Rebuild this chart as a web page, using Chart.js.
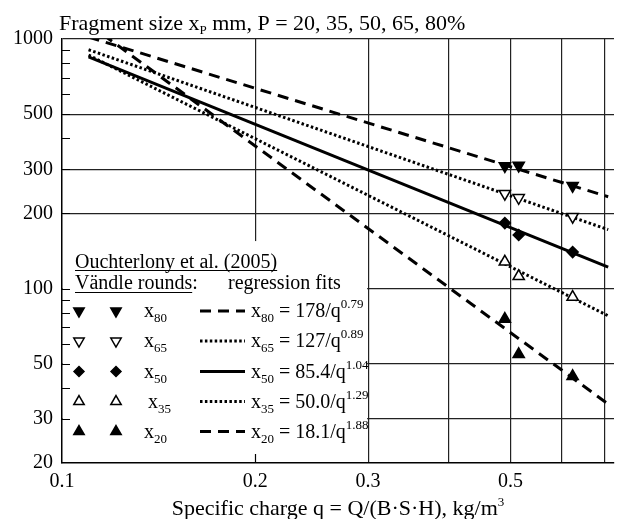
<!DOCTYPE html>
<html>
<head>
<meta charset="utf-8">
<script src="https://cdn.jsdelivr.net/npm/chart.js@4"></script>
<style>
  html, body { margin: 0; padding: 0; background: #fff; }
</style>
</head>
<body>
<canvas id="myChart" width="622" height="519"></canvas>
<script>
// Vändle rounds, specific charge q in kg/m3
const q_rounds = [0.49, 0.515, 0.625];
// fragment size x_P in mm
const x80 = [310, 311, 258];
const x65 = [240, 231, 194];
const x50 = [183, 164, 140];
const x35 = [128, 112, 92.5];
const x20 = [75.5, 54.5, 44.5];

// regression fits x_P = a/q^b
const fit_p = ['80', '65', '50', '35', '20'];
const fit_a = [178, 127, 85.4, 50.0, 18.1];
const fit_b = [0.79, 0.89, 1.04, 1.29, 1.88];
const fit_q = [0.11, 0.71];

const y_ticks = [20, 30, 40, 50, 60, 70, 80, 90, 100, 200, 300, 400, 500, 600, 700, 800, 900, 1000];
const y_labels = [20, 30, 50, 100, 200, 300, 500, 1000];
const x_ticks = [0.1, 0.2, 0.3, 0.4, 0.5, 0.6, 0.7];
const x_labels = [0.1, 0.2, 0.3, 0.5];

const series = [x80, x65, x50, x35, x20];
const marks = [
    {pointStyle: 'triangle', rotation: 180, fill: '#000', r: 6.5},
    {pointStyle: 'triangle', rotation: 180, fill: '#fff', r: 6.5},
    {pointStyle: 'rectRot', rotation: 0, fill: '#000', r: 5.5},
    {pointStyle: 'triangle', rotation: 0, fill: '#fff', r: 6.5},
    {pointStyle: 'triangle', rotation: 0, fill: '#000', r: 6.5}
];
const dashes = [[11, 7], [2.5, 2.4], [], [2.5, 2.4], [11, 7]];
const serif = '"Liberation Serif", "Times New Roman", serif';

const ctx = document.getElementById('myChart');

let datasets = [];
fit_a.forEach(function(a, i){
    datasets.push({
        label: 'fit x' + fit_p[i],
        data: fit_q.map(q => ({x: q, y: a / Math.pow(q, fit_b[i])})),
        showLine: true,
        borderColor: '#000',
        borderWidth: 3,
        borderDash: dashes[i],
        borderCapStyle: 'butt',
        pointRadius: 0,
        fill: false,
        order: 2
    });
    datasets.push({
        label: 'x' + fit_p[i],
        data: q_rounds.map((q, j) => ({x: q, y: series[i][j]})),
        pointStyle: marks[i].pointStyle,
        rotation: marks[i].rotation,
        pointRadius: marks[i].r,
        backgroundColor: marks[i].fill,
        borderColor: '#000',
        borderWidth: 1.5,
        order: 1
    });
});

// draws a run of text pieces: [text, size, dy]
function drawParts(c, x, y, parts, measureOnly)
{
    let w = 0;
    parts.forEach(function(p){
        c.font = p[1] + 'px ' + serif;
        if (!measureOnly) c.fillText(p[0], x + w, y + p[2]);
        w += c.measureText(p[0]).width;
    });
    return w;
}

const legendBox = {
    id: 'legend_box',
    beforeDatasetsDraw: (chart) => {
        const c = chart.ctx, a = chart.chartArea;
        const xs = chart.scales.x, ys = chart.scales.y;
        const right = xs.getPixelForValue(0.3);
        const top = ys.getPixelForValue(155);
        c.save();
        c.fillStyle = '#fff';
        c.fillRect(a.left + 1, top, right - a.left - 2, a.bottom - top - 1);
        // short inward ticks
        c.strokeStyle = '#000';
        c.lineWidth = 1.2;
        c.beginPath();
        y_ticks.forEach(function(v){
            if (v == 20 || v == 1000) return;
            let y = Math.round(ys.getPixelForValue(v)) + 0.5;
            c.moveTo(a.left, y);
            c.lineTo(a.left + 8, y);
        });
        let x2 = Math.round(xs.getPixelForValue(0.2)) + 0.5;
        c.moveTo(x2, a.bottom);
        c.lineTo(x2, a.bottom - 9);
        c.stroke();
        c.restore();
    },
    afterDraw: (chart) => {
        const c = chart.ctx, a = chart.chartArea;
        c.save();
        c.fillStyle = '#000';
        c.textBaseline = 'alphabetic';
        c.textAlign = 'left';

        // title
        drawParts(c, 59, 30, [['Fragment size x', 22, 0], ['P', 13, 4], [' mm, P = 20, 35, 50, 65, 80%', 22, 0]]);

        // x axis title
        let xt = [['Specific charge q = Q/(B\u00B7S\u00B7H), kg/m', 22, 0], ['3', 13, -9]];
        let w = drawParts(c, 0, 0, xt, true);
        drawParts(c, (a.left + a.right) / 2 - w / 2, 515, xt);

        // legend
        c.strokeStyle = '#000';
        c.lineWidth = 1;
        let w1 = drawParts(c, 75, 268, [['Ouchterlony et al. (2005)', 20, 0]]);
        c.beginPath();
        c.moveTo(75, 270.5); c.lineTo(75 + w1, 270.5);
        let w2 = drawParts(c, 75, 289, [['V\u00E4ndle rounds', 20, 0]]);
        drawParts(c, 75 + w2, 289, [[':', 20, 0]]);
        c.moveTo(75, 292.5); c.lineTo(75 + w2, 292.5);
        c.stroke();
        drawParts(c, 228, 289, [['regression fits', 20, 0]]);

        const rows = [311, 341, 371.5, 401.5, 431.5];
        const lbl_dx = [0, 0, 0, 4, 0];
        fit_p.forEach(function(p, i){
            let y = rows[i];
            [79, 116].forEach(function(mx){
                c.fillStyle = marks[i].fill;
                c.strokeStyle = '#000';
                c.lineWidth = 1.5;
                c.setLineDash([]);
                Chart.helpers.drawPoint(c, {
                    pointStyle: marks[i].pointStyle,
                    rotation: marks[i].rotation,
                    radius: marks[i].r - 0.5,
                    borderWidth: 1.5
                }, mx, y);
            });
            c.fillStyle = '#000';
            drawParts(c, 144 + lbl_dx[i], y + 6, [['x', 20, 0], [p, 13, 5]]);

            c.strokeStyle = '#000';
            c.lineWidth = 3;
            c.lineCap = 'butt';
            c.setLineDash(dashes[i]);
            c.beginPath();
            c.moveTo(200, y); c.lineTo(245, y);
            c.stroke();
            c.setLineDash([]);

            let a0 = fit_a[i] >= 100 ? fit_a[i].toFixed(0) : fit_a[i].toFixed(1);
            drawParts(c, 251, y + 6, [['x', 20, 0], [p, 13, 5], [' = ' + a0 + '/q', 20, 0], [fit_b[i].toFixed(2), 13, -9]]);
        });
        c.restore();
    }
};

const myChart = new Chart(ctx, {
    type: 'scatter',
    data: { datasets: datasets },
    options: {
        responsive: false,
        animation: false,
        devicePixelRatio: 1,
        layout: { padding: { top: 39, right: 0, left: 0, bottom: 0 } },
        plugins: {
            legend: { display: false },
            tooltip: { enabled: false }
        },
        scales: {
            x: {
                type: 'logarithmic',
                bounds: 'data',
                min: 0.1,
                max: 0.725,
                afterBuildTicks: function(scale){
                    scale.ticks = x_ticks.map(v => ({value: v}));
                },
                afterFit: function(scale){ scale.height = 56; },
                ticks: {
                    autoSkip: false,
                    maxRotation: 0,
                    padding: 7,
                    color: '#000',
                    font: { family: serif, size: 20 },
                    callback: function(v){ return x_labels.includes(v) ? String(v) : ''; }
                },
                grid: {
                    drawTicks: false,
                    lineWidth: 1.2,
                    color: function(c){ return c.tick && c.tick.value == 0.1 ? 'rgba(0,0,0,0)' : '#222'; }
                },
                border: { display: true, color: '#000', width: 1.5 }
            },
            y: {
                type: 'logarithmic',
                bounds: 'data',
                min: 20,
                max: 1000,
                afterBuildTicks: function(scale){
                    scale.ticks = y_ticks.map(v => ({value: v}));
                },
                afterFit: function(scale){ scale.width = 62; },
                ticks: {
                    autoSkip: false,
                    padding: 9,
                    color: '#000',
                    font: { family: serif, size: 20 },
                    callback: function(v){ return y_labels.includes(v) ? String(v) : ''; }
                },
                grid: {
                    drawTicks: false,
                    lineWidth: 1.2,
                    color: function(c){
                        if (!c.tick) return 'rgba(0,0,0,0)';
                        let v = c.tick.value;
                        return (y_labels.includes(v) && v != 20) ? '#222' : 'rgba(0,0,0,0)';
                    }
                },
                border: { display: true, color: '#000', width: 1.5 }
            }
        }
    },
    plugins: [legendBox]
});
</script>
</body>
</html>
